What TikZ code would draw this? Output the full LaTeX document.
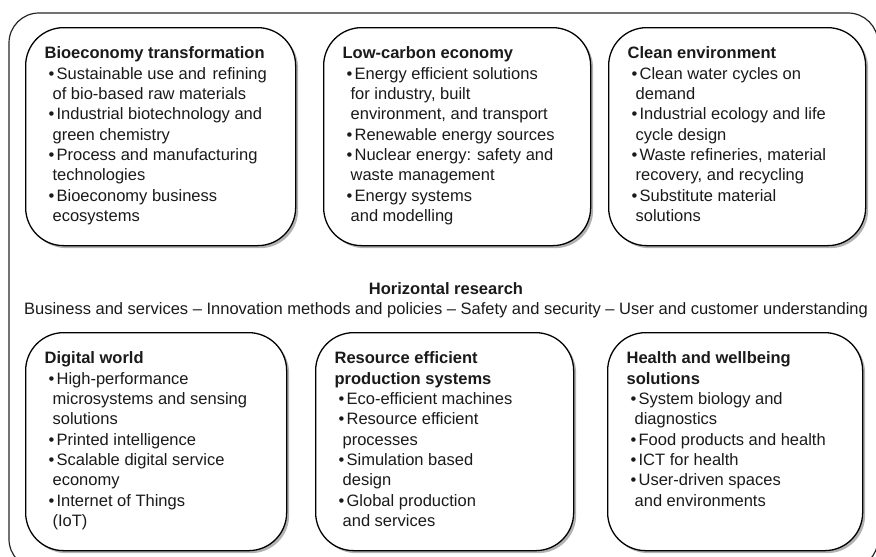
\documentclass[tikz,border=0pt]{standalone}
\usepackage{fontspec}
\setmainfont{Liberation Sans}
\usetikzlibrary{shadows}

\definecolor{inktext}{HTML}{1A1A1A}

\newcommand\topicitem[1]{\par\hangindent=8pt\hangafter=1\noindent\makebox[12pt][l]{\hspace{4pt}\textbullet}#1}
\newcommand\topictext[2]{\parbox[t][183.4pt][t]{#1}{\raggedright\rule{0pt}{14pt}#2}}

\begin{document}
\begin{tikzpicture}[x=1pt,y=-1pt,
    font=\fontsize{16.5pt}{20.3pt}\selectfont,
    topic/.style={draw=black, line width=1.3pt, fill=white, rounded corners=38pt,
        anchor=north west, inner xsep=19pt, inner ysep=17.3pt, text=inktext,
        drop shadow={shadow xshift=2.5pt, shadow yshift=-2.5pt, fill=black, opacity=0.3}},
    outerframe/.style={draw=black!85, line width=1.2pt, rounded corners=30pt}]
    \path[use as bounding box, clip] (0,0) rectangle (876,557);
    \draw[outerframe] (9,13) rectangle (878,569);

    % upper row
    \node[topic] (bio) at (25,27) {\topictext{232pt}{\textbf{Bioeconomy transformation}
        \topicitem{Sustainable use and\hspace{2pt} refining\newline of bio-based raw materials}
        \topicitem{Industrial biotechnology and\newline green chemistry}
        \topicitem{Process and manufacturing\newline technologies}
        \topicitem{Bioeconomy business\newline ecosystems}}};
    \node[topic] (lowcarbon) at (323,27) {\topictext{229pt}{\textbf{Low-carbon economy}
        \topicitem{Energy efficient solutions\newline for industry, built\newline environment, and transport}
        \topicitem{Renewable energy sources}
        \topicitem{Nuclear energy: safety and\newline waste management}
        \topicitem{Energy systems\newline and modelling}}};
    \node[topic] (cleanenv) at (608,27) {\topictext{219pt}{\textbf{Clean environment}
        \topicitem{Clean water cycles on\newline demand}
        \topicitem{Industrial ecology and life\newline cycle design}
        \topicitem{Waste refineries, material\newline recovery, and recycling}
        \topicitem{Substitute material\newline solutions}}};

    % horizontal research
    \node[anchor=base, text=inktext, font=\fontsize{16.5pt}{20pt}\selectfont\bfseries] (hr) at (446,294.5) {Horizontal research};
    \node[anchor=base, text=inktext] (hrlist) at ([yshift=-20pt]hr.base)
        {Business and services -- Innovation methods and policies -- Safety and security -- User and customer understanding};

    % lower row
    \node[topic] (digital) at (25,332) {\topictext{223pt}{\textbf{Digital world}
        \topicitem{High-performance\newline microsystems and sensing\newline solutions}
        \topicitem{Printed intelligence}
        \topicitem{Scalable digital service\newline economy}
        \topicitem{Internet of Things\newline (IoT)}}};
    \node[topic] (resource) at (315,332) {\topictext{220pt}{\textbf{Resource efficient\\production systems}
        \topicitem{Eco-efficient machines}
        \topicitem{Resource efficient\newline processes}
        \topicitem{Simulation based\newline design}
        \topicitem{Global production\newline and services}}};
    \node[topic] (health) at (607,332) {\topictext{217pt}{\textbf{Health and wellbeing\\solutions}
        \topicitem{System biology and\newline diagnostics}
        \topicitem{Food products and health}
        \topicitem{ICT for health}
        \topicitem{User-driven spaces\newline and environments}}};
\end{tikzpicture}
\end{document}
